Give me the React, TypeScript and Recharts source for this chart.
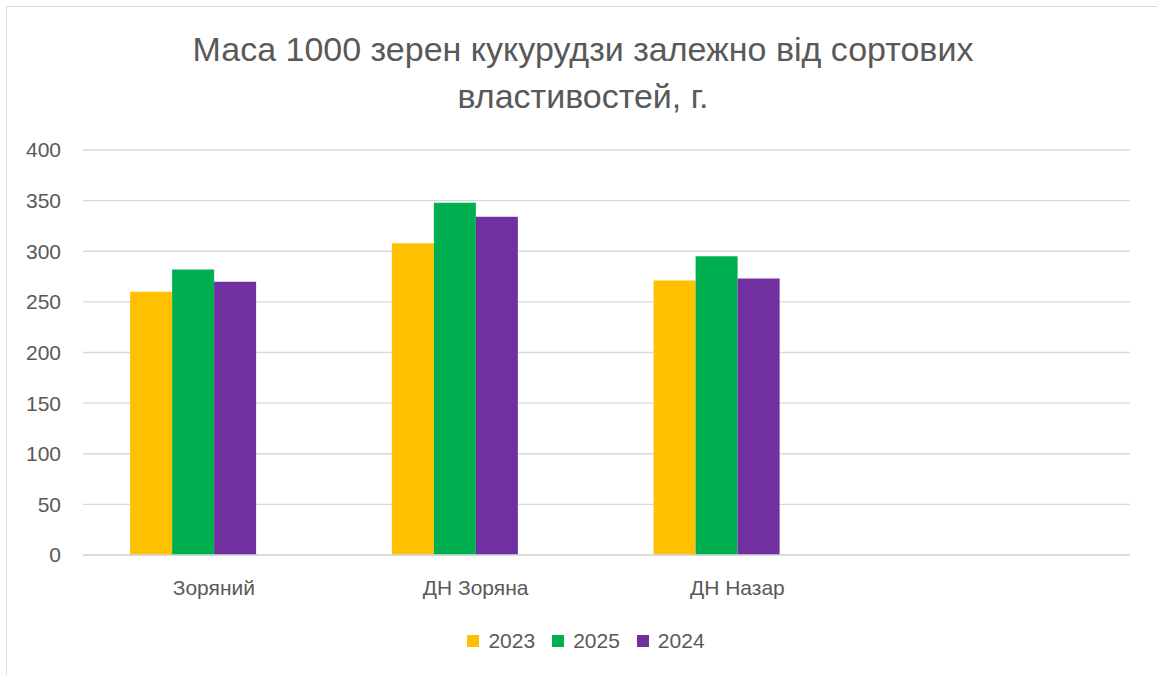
import { BarChart, Bar, XAxis, YAxis, CartesianGrid, Legend } from "recharts";

const varieties = ["Зоряний", "ДН Зоряна", "ДН Назар", ""];
const mass2023 = [260, 308, 271, null];
const mass2025 = [282, 348, 295, null];
const mass2024 = [270, 334, 273, null];
// empty fourth series in the source workbook, keeps the bar slots
const emptySeries = [null, null, null, null];
const yTicks = [0, 50, 100, 150, 200, 250, 300, 350, 400];

const data = varieties.map((name, i) => ({
  name,
  s1: mass2023[i],
  s2: mass2025[i],
  s3: mass2024[i],
  s4: emptySeries[i],
}));

const FONT = "Liberation Sans, Arial, sans-serif";
const TEXT = "#595959";

function LegendBox(props: any) {
  const items = (props.payload || [])
    .filter((p: any) => p.type !== "none")
    .sort((a: any, b: any) => String(a.dataKey).localeCompare(String(b.dataKey)));
  return (
    <div style={{ display: "flex", justifyContent: "center", gap: 17, fontSize: 21, color: TEXT, fontFamily: FONT }}>
      {items.map((it: any) => (
        <div key={it.value} style={{ display: "flex", alignItems: "center", gap: 9 }}>
          <span style={{ width: 12, height: 12, background: it.color, display: "inline-block" }} />
          <span>{it.value}</span>
        </div>
      ))}
    </div>
  );
}

export default function App() {
  return (
    <div style={{ position: "absolute", left: 0, top: 0, width: 1157, height: 675, background: "#fff", fontFamily: FONT }}>
      <div
        style={{
          position: "absolute",
          left: 6,
          top: 6,
          width: 1160,
          height: 680,
          borderLeft: "1px solid #d9d9d9",
          borderTop: "1px solid #d9d9d9",
        }}
      />
      <div
        style={{
          position: "absolute",
          left: 0,
          top: 26,
          width: 1166,
          textAlign: "center",
          fontSize: 34,
          lineHeight: "47px",
          color: TEXT,
        }}
      >
        Маса 1000 зерен кукурудзи залежно від сортових
        <br />
        властивостей, г.
      </div>
      <BarChart
        width={1157}
        height={675}
        data={data}
        margin={{ top: 150, right: 27, bottom: 6, left: 8 }}
        barCategoryGap="18%"
        barGap={0}
        style={{ position: "absolute", left: 0, top: 0 }}
      >
        <CartesianGrid vertical={false} stroke="#d9d9d9" strokeWidth={1.3} />
        <XAxis
          dataKey="name"
          axisLine={{ stroke: "#d9d9d9", strokeWidth: 1.3 }}
          tickLine={false}
          tick={{ fill: TEXT, fontSize: 21, fontFamily: FONT }}
          tickMargin={19}
          height={74}
        />
        <YAxis
          domain={[0, 400]}
          ticks={yTicks}
          axisLine={false}
          tickLine={false}
          tick={{ fill: TEXT, fontSize: 21, fontFamily: FONT }}
          width={75}
          tickMargin={16}
        />
        <Legend
          verticalAlign="bottom"
          height={40}
          content={LegendBox}
          wrapperStyle={{ left: 0, width: 1172 }}
        />
        <Bar dataKey="s1" name="2023" fill="#FFC000" isAnimationActive={false} />
        <Bar dataKey="s2" name="2025" fill="#00B050" isAnimationActive={false} />
        <Bar dataKey="s3" name="2024" fill="#7030A0" isAnimationActive={false} />
        <Bar dataKey="s4" name="" fill="#4472C4" legendType="none" isAnimationActive={false} />
      </BarChart>
    </div>
  );
}
